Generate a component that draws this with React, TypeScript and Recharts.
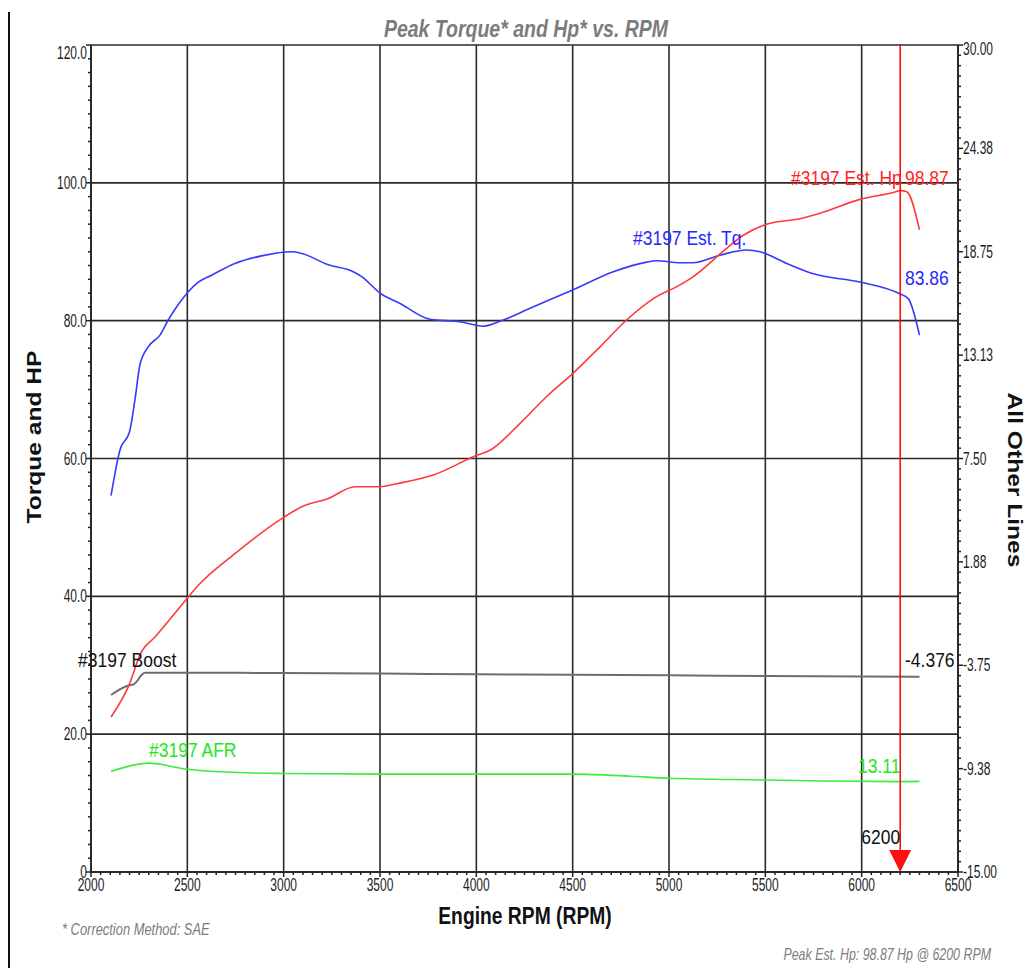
import {
  ComposedChart,
  Line,
  XAxis,
  YAxis,
  CartesianGrid,
  ReferenceLine,
  ReferenceDot,
} from 'recharts'

// ---- data ----
const tqRpm = [2104, 2150, 2202, 2228, 2254, 2297, 2358, 2401, 2452, 2505, 2557, 2626, 2747, 2886, 3042, 3094, 3232, 3353, 3405, 3500, 3604, 3760, 3915, 4036, 4140, 4279, 4503, 4711, 4884, 4936, 5057, 5126, 5264, 5403, 5472, 5611, 5749, 5991, 6200, 6242, 6300]
const torque = [54.6, 61.2, 64.1, 68.5, 73.6, 76.2, 77.9, 80.1, 82.3, 84.2, 85.6, 86.6, 88.3, 89.4, 90.0, 89.75, 88.1, 87.2, 86.4, 84.0, 82.5, 80.2, 79.85, 79.2, 80.1, 81.8, 84.5, 87.1, 88.5, 88.7, 88.4, 88.4, 89.5, 90.25, 90.0, 88.3, 86.8, 85.6, 83.86, 83.2, 77.9]

const hpRpm = [2104, 2194, 2263, 2332, 2502, 2557, 2747, 3002, 3094, 3232, 3370, 3500, 3578, 3777, 4005, 4071, 4227, 4365, 4503, 4642, 4780, 4919, 5057, 5126, 5299, 5386, 5507, 5680, 5784, 5991, 6164, 6200, 6234, 6300]
const horsepower = [22.5, 26.9, 32.0, 34.1, 39.8, 41.6, 46.2, 51.5, 53.0, 54.2, 55.9, 55.9, 56.3, 57.6, 60.5, 61.2, 65.1, 69.0, 72.4, 76.2, 80.1, 83.2, 85.2, 86.4, 90.5, 92.4, 94.0, 94.8, 95.6, 97.6, 98.6, 98.87, 98.7, 93.2]

const boostRpm = [2104, 2194, 2220, 2280, 2500, 3000, 3500, 4000, 4500, 5000, 5500, 6000, 6300]
const boost = [-5.37, -4.85, -4.8, -4.16, -4.16, -4.17, -4.2, -4.24, -4.27, -4.3, -4.33, -4.36, -4.38]

const afrRpm = [2104, 2300, 2500, 2700, 3000, 3500, 4000, 4500, 4800, 5000, 5500, 5800, 6200, 6300]
const afr = [14.6, 15.8, 14.9, 14.5, 14.3, 14.2, 14.2, 14.2, 13.9, 13.6, 13.35, 13.2, 13.11, 13.15]

const peakRpm = 6200
const peakHp = 98.87
const tqAtPeak = 83.86
const boostAtPeak = -4.376
const afrAtPeak = 13.11

const xMajor = [2000, 2500, 3000, 3500, 4000, 4500, 5000, 5500, 6000, 6500]
const xLabels = ['2000', '2500', '3000', '3500', '4000', '4500', '5000', '5500', '6000', '6500']
const leftMajor = [0, 20, 40, 60, 80, 100, 120]
const leftLabels = ['0', '20.0', '40.0', '60.0', '80.0', '100.0', '120.0']
const rightMajor = [-15, -9.375, -3.75, 1.875, 7.5, 13.125, 18.75, 24.375, 30]
const rightLabels = ['-15.00', '-9.38', '-3.75', '1.88', '7.50', '13.13', '18.75', '24.38', '30.00']

const toRows = (xs: number[], ys: number[]) => xs.map((rpm, i) => ({ rpm, v: ys[i] }))

// minor ticks (every 50 rpm / 2 units / 0.5625 units)
const xTicks: number[] = []
for (let i = 0; i <= 90; i++) xTicks.push(2000 + i * 50)
const leftTicks: number[] = []
for (let i = 0; i <= 60; i++) leftTicks.push(i * 2)
const rightTicks: number[] = []
for (let i = 0; i <= 80; i++) rightTicks.push(-15 + i * 0.5625)

const FONT = '"Liberation Sans", Arial, sans-serif'
const TICK_COLOR = '#1c1c24'

function T({
  x, y, size, sy = 1, sx = 1, anchor = 'start', fill = '#111', weight = 'normal', italic = false, rotate = 0, children,
}: any) {
  return (
    <text
      transform={`translate(${x},${y}) rotate(${rotate}) scale(${sx},${sy})`}
      fontSize={size}
      fontFamily={FONT}
      fontWeight={weight}
      fontStyle={italic ? 'italic' : 'normal'}
      textAnchor={anchor}
      fill={fill}
    >
      {children}
    </text>
  )
}

const findLabel = (v: number, majors: number[], labels: string[]) => {
  const i = majors.findIndex((m) => Math.abs(m - v) < 1e-6)
  return i >= 0 ? labels[i] : null
}

function LeftTick({ x, y, payload }: any) {
  const label = findLabel(payload.value, leftMajor, leftLabels)
  const dy = payload.value === 120 ? 8 : 0
  return (
    <g>
      <line x1={x} x2={x - (label ? 5 : 3)} y1={y} y2={y} stroke="#222" strokeWidth={1.5} />
      {label && (
        <T x={x - 4} y={y + dy + 6} size={12} sy={1.6} anchor="end" fill={TICK_COLOR}>
          {label}
        </T>
      )}
    </g>
  )
}

function RightTick({ x, y, payload }: any) {
  const label = findLabel(payload.value, rightMajor, rightLabels)
  const dy = payload.value === 30 ? 4 : 0
  return (
    <g>
      <line x1={x} x2={x + (label ? 5 : 3)} y1={y} y2={y} stroke="#222" strokeWidth={1.5} />
      {label && (
        <T x={x + 5} y={y + dy + 6} size={12} sy={1.6} anchor="start" fill={TICK_COLOR}>
          {label}
        </T>
      )}
    </g>
  )
}

function BottomTick({ x, y, payload }: any) {
  const label = findLabel(payload.value, xMajor, xLabels)
  return (
    <g>
      <line x1={x} x2={x} y1={y} y2={y + (label ? 5 : 3)} stroke="#222" strokeWidth={1.5} />
      {label && (
        <T x={x} y={y + 19} size={12} sy={1.6} anchor="middle" fill={TICK_COLOR}>
          {label}
        </T>
      )}
    </g>
  )
}

const textShape = (text: string, fill: string, anchor = 'start', size = 17.5) => (p: any) => (
  <T x={p.cx} y={p.cy} size={size} sy={1.2} anchor={anchor} fill={fill}>
    {text}
  </T>
)

const triangleShape = (p: any) => (
  <polygon
    points={`${p.cx - 11},${p.cy - 22} ${p.cx + 11},${p.cy - 22} ${p.cx},${p.cy}`}
    fill="#ff1010"
  />
)

export default function App() {
  return (
    <div style={{ position: 'absolute', left: 0, top: 0, width: 1030, height: 968, background: '#fff' }}>
      <div style={{ position: 'absolute', left: 8, top: 12, width: 2, height: 956, background: '#111' }} />
      <ComposedChart
        width={1030}
        height={968}
        margin={{ top: 45, right: 0, bottom: 0, left: 0 }}
        style={{ position: 'absolute', left: 0, top: 0 }}
      >
        <CartesianGrid
          yAxisId="left"
          horizontalValues={[20, 40, 60, 80, 100, 120]}
          verticalValues={[2500, 3000, 3500, 4000, 4500, 5000, 5500, 6000]}
          stroke="#2a2a2a"
          strokeWidth={1.6}
        />
        <XAxis
          dataKey="rpm"
          type="number"
          domain={[2000, 6500]}
          ticks={xTicks}
          interval={0}
          allowDataOverflow
          height={96}
          tickSize={0}
          tickMargin={0}
          tick={<BottomTick />}
          axisLine={{ stroke: '#2a2a2a', strokeWidth: 2 }}
        />
        <YAxis
          yAxisId="left"
          domain={[0, 120]}
          ticks={leftTicks}
          interval={0}
          allowDataOverflow
          width={91}
          tickSize={0}
          tickMargin={0}
          tick={<LeftTick />}
          axisLine={{ stroke: '#2a2a2a', strokeWidth: 2 }}
        />
        <YAxis
          yAxisId="right"
          orientation="right"
          domain={[-15, 30]}
          ticks={rightTicks}
          interval={0}
          allowDataOverflow
          width={72}
          tickSize={0}
          tickMargin={0}
          tick={<RightTick />}
          axisLine={{ stroke: '#2a2a2a', strokeWidth: 2 }}
        />

        <Line
          yAxisId="left"
          data={toRows(afrRpm, afr)}
          dataKey="v"
          type="monotone"
          stroke="#3ced3c"
          strokeWidth={1.6}
          dot={false}
          isAnimationActive={false}
        />
        <Line
          yAxisId="right"
          data={toRows(boostRpm, boost)}
          dataKey="v"
          type="monotone"
          stroke="#6e6e6e"
          strokeWidth={2}
          dot={false}
          isAnimationActive={false}
        />
        <Line
          yAxisId="left"
          data={toRows(tqRpm, torque)}
          dataKey="v"
          type="monotone"
          stroke="#3838ff"
          strokeWidth={1.6}
          dot={false}
          isAnimationActive={false}
        />
        <Line
          yAxisId="left"
          data={toRows(hpRpm, horsepower)}
          dataKey="v"
          type="monotone"
          stroke="#ff3a3a"
          strokeWidth={1.6}
          dot={false}
          isAnimationActive={false}
        />

        <ReferenceLine yAxisId="left" x={peakRpm} stroke="#ff0000" strokeWidth={1.5} />
        <ReferenceDot yAxisId="left" x={peakRpm} y={0} r={0} shape={triangleShape} />

        {/* line labels */}
        <ReferenceDot yAxisId="left" x={5633} y={99.7} r={0} shape={textShape('#3197 Est. Hp', '#ff2424')} />
        <ReferenceDot yAxisId="left" x={6225} y={99.7} r={0} shape={textShape(peakHp.toFixed(2), '#ff2424')} />
        <ReferenceDot yAxisId="left" x={4813} y={91.0} r={0} shape={textShape('#3197 Est. Tq.', '#2626ff')} />
        <ReferenceDot yAxisId="left" x={6225} y={85.2} r={0} shape={textShape(tqAtPeak.toFixed(2), '#2626ff')} />
        <ReferenceDot yAxisId="left" x={1933} y={29.7} r={0} ifOverflow="visible" shape={textShape('#3197 Boost', '#111')} />
        <ReferenceDot yAxisId="left" x={6225} y={29.7} r={0} shape={textShape(boostAtPeak.toFixed(3), '#111')} />
        <ReferenceDot yAxisId="left" x={2301} y={16.7} r={0} shape={textShape('#3197 AFR', '#22e622')} />
        <ReferenceDot yAxisId="left" x={5981} y={14.4} r={0} shape={textShape(afrAtPeak.toFixed(2), '#22e622')} />
        <ReferenceDot yAxisId="left" x={peakRpm} y={4.1} r={0} shape={textShape(String(peakRpm), '#111', 'end')} />
      </ComposedChart>

      <svg width={1030} height={968} style={{ position: 'absolute', left: 0, top: 0, pointerEvents: 'none' }}>
        <T x={526} y={37} size={19.5} sy={1.25} anchor="middle" weight="bold" italic fill="#7c7c7c">
          Peak Torque* and Hp* vs. RPM
        </T>
        <T x={41} y={437} size={20.5} sx={1.2} rotate={-90} anchor="middle" weight="bold" fill="#111">
          Torque and HP
        </T>
        <T x={1008} y={480} size={20.5} sx={1.2} rotate={90} anchor="middle" weight="bold" fill="#111">
          All Other Lines
        </T>
        <T x={525} y={924} size={19.3} sy={1.2} anchor="middle" weight="bold" fill="#111">
          Engine RPM (RPM)
        </T>
        <T x={62} y={935} size={12.9} sy={1.3} italic fill="#7c7c7c">
          * Correction Method: SAE
        </T>
        <T x={991} y={960} size={12.4} sy={1.3} anchor="end" italic fill="#7c7c7c">
          Peak Est. Hp: 98.87 Hp @ 6200 RPM
        </T>
      </svg>
    </div>
  )
}
